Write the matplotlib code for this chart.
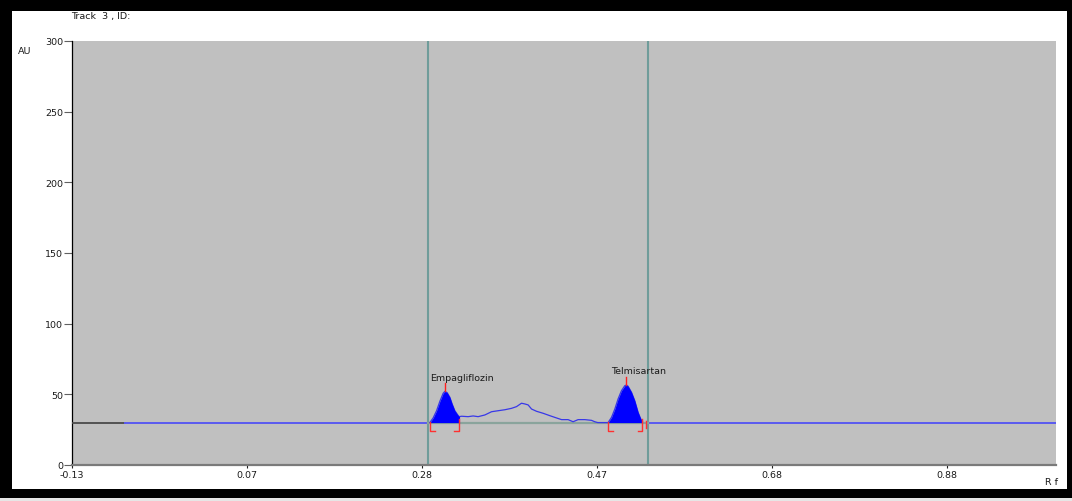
import matplotlib
matplotlib.use("Agg")
import matplotlib.pyplot as plt
from matplotlib.patches import Rectangle

plt.rcParams['font.family'] = ['DejaVu Sans']

# ---- densitogram data (Rf vs absorbance units) ----
track_title = "Track  3 , ID:"
x_label = "R f"
y_label = "AU"

x_ticks = [-0.125, 0.075, 0.275, 0.475, 0.675, 0.875]
x_tick_labels = ["-0.13", "0.07", "0.28", "0.47", "0.68", "0.88"]
y_ticks = [0, 50, 100, 150, 200, 250, 300]

baseline_au = 30.0
track_start = -0.125
scan_start = -0.064
track_end = 1.0
window_left = 0.2819
window_right = 0.5333

# signal trace inside the scan window
signal_rf = [0.2841, 0.2879, 0.2918, 0.2956, 0.2993, 0.3013, 0.3039, 0.3070,
             0.3096, 0.3127, 0.3158, 0.3176, 0.3204, 0.3279, 0.3336, 0.3393,
             0.3470, 0.3547, 0.3622, 0.3699, 0.3775, 0.3832, 0.3889, 0.3927,
             0.3965, 0.4004, 0.4061, 0.4136, 0.4213, 0.4289, 0.4347, 0.4422,
             0.4479, 0.4536, 0.4613, 0.4689, 0.4727, 0.4761, 0.4879, 0.4918,
             0.4956, 0.4993, 0.5032, 0.5070, 0.5089, 0.5108, 0.5147, 0.5184,
             0.5222, 0.5253, 0.5272]
signal_au = [30.0, 33.3, 38.4, 45.1, 50.7, 52.1, 51.2, 47.9,
             43.2, 38.4, 35.6, 34.2, 34.5, 34.2, 34.7, 34.2,
             35.4, 37.7, 38.4, 39.1, 40.1, 41.3, 43.7, 43.2,
             42.5, 39.6, 38.0, 36.6, 34.9, 33.3, 32.1, 32.1,
             30.6, 32.1, 32.1, 31.6, 30.6, 30.0, 30.0, 33.7,
             39.6, 46.7, 52.6, 56.1, 56.6, 55.7, 51.4, 45.5,
             37.3, 32.5, 31.1]

# integrated peaks
peak_names = ["Empagliflozin", "Telmisartan"]
peak_start = [0.2841, 0.4879]
peak_max_rf = [0.3013, 0.5089]
peak_max_au = [52.1, 56.6]
peak_end = [0.3176, 0.5272]

# ---- figure ----
W, H = 1072, 502
fig = plt.figure(figsize=(W / 100, H / 100), dpi=100)


def px_rect(x0, y0, x1, y1, color):
    fig.patches.append(Rectangle((x0 / W, 1 - y1 / H), (x1 - x0) / W, (y1 - y0) / H,
                                 transform=fig.transFigure, facecolor=color,
                                 edgecolor='none', zorder=-10))


px_rect(0, 0, W, H, '#e6e6e6')
px_rect(0, 1, 1072, 499, '#000000')
px_rect(12, 12, 1067, 490, '#ffffff')

ax = fig.add_axes([72 / W, 1 - 466 / H, 984 / W, 424 / H])
ax.set_facecolor('#c0c0c0')
ax.set_xlim(track_start, track_end)
ax.set_ylim(0, 300)

for side in ('top', 'right'):
    ax.spines[side].set_visible(False)
ax.spines['left'].set_color('#000000')
ax.spines['left'].set_linewidth(0.9)
ax.spines['bottom'].set_color('#7a7a7a')
ax.spines['bottom'].set_linewidth(1.6)

fs = 6.8
ax.set_xticks(x_ticks)
ax.set_xticklabels(x_tick_labels)
ax.set_yticks(y_ticks)
ax.tick_params(axis='y', direction='out', length=5.5, width=0.8, color='#606060',
               pad=1, labelsize=fs, labelcolor='#1a1a1a')
ax.tick_params(axis='x', direction='out', length=2.5, width=0.8, color='#202020',
               pad=1.0, labelsize=fs, labelcolor='#1a1a1a')

# scan window boundaries
for xv in (window_left, window_right):
    ax.axvline(xv, color='#6f9c9a', lw=1.5, zorder=2)

# trace outside the window
ax.plot([track_start, scan_start], [baseline_au, baseline_au], color='#4a4a4a', lw=1.3, zorder=3)
ax.plot([scan_start, window_left], [baseline_au, baseline_au], color='#5a5af0', lw=1.4, zorder=3)
ax.plot([peak_end[1], track_end], [baseline_au, baseline_au], color='#5a5af0', lw=1.4, zorder=3)

# integration baseline inside the window
ax.plot([window_left, window_right], [baseline_au, baseline_au], color='#8aa49c', lw=1.6, zorder=3)

# signal trace
ax.plot(signal_rf, signal_au, color='#3838e8', lw=0.9, zorder=4)

# filled peak areas
for s, e in zip(peak_start, peak_end):
    xs = [r for r in signal_rf if s <= r <= e]
    ys = [a for r, a in zip(signal_rf, signal_au) if s <= r <= e]
    ax.fill_between(xs, baseline_au, ys, color='#0000ff', lw=0, zorder=5)
    ax.plot([e, e], [baseline_au, ys[-1]], color='#0000ff', lw=0.8, zorder=5)

# peak markers, labels and integration brackets
foot = 0.0055
low = 24.3
for name, s, e, mx, my in zip(peak_names, peak_start, peak_end, peak_max_rf, peak_max_au):
    ax.plot([mx, mx], [my, my + 5.8], color='#ff2020', lw=1.0, zorder=6)
    ax.annotate(name, (mx, my + 5.8), xytext=(-10.8, 1.2), textcoords='offset points',
                ha='left', va='bottom', fontsize=fs, color='#1a1a1a', zorder=7)
    ax.plot([s + foot, s, s], [low, low, baseline_au + 0.6], color='#ff3030', lw=1.0, zorder=6)
    ax.plot([e - foot, e, e], [low, low, baseline_au + 2.5], color='#ff3030', lw=1.0, zorder=6)
ax.plot([peak_end[1] + 0.0045] * 2, [baseline_au + 1.0, 26.5], color='#ff3030', lw=1.0, zorder=6)

# axis captions
fig.text(71 / W, 1 - 17 / H, track_title, fontsize=fs, color='#1a1a1a', va='center', ha='left')
fig.text(18 / W, 1 - 51 / H, y_label, fontsize=fs, color='#1a1a1a', va='center', ha='left')
fig.text(1045 / W, 1 - 483 / H, x_label, fontsize=fs, color='#1a1a1a', va='center', ha='left')

fig.savefig("out.png", dpi=100)
